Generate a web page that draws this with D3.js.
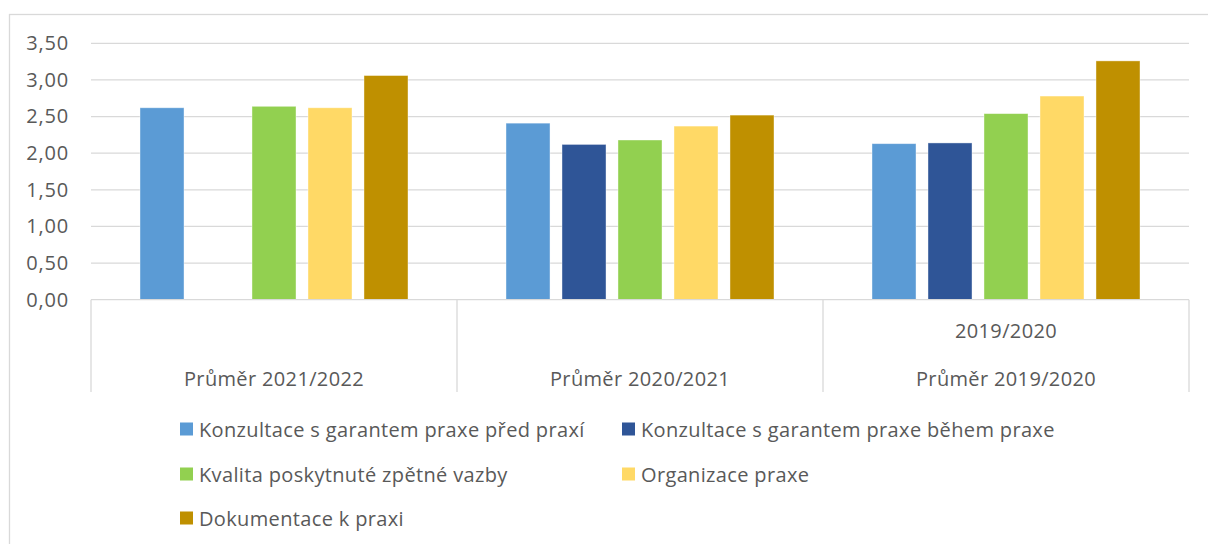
<!DOCTYPE html>
<html><head><meta charset="utf-8">
<script src="https://cdn.jsdelivr.net/npm/d3@7"></script>
<style>
html,body{margin:0;padding:0;background:#fff;overflow:hidden}
text{font-family:"Open Sans",Lato,sans-serif;fill:#595959;letter-spacing:0.35px}
</style></head>
<body>
<svg id="c" width="1208" height="544"></svg>
<script>
const categories = ["Průměr 2021/2022", "Průměr 2020/2021", "Průměr 2019/2020"];
const subLabels = ["", "", "2019/2020"];
const seriesNames = [
  "Konzultace s garantem praxe před praxí",
  "Konzultace s garantem praxe během praxe",
  "Kvalita poskytnuté zpětné vazby",
  "Organizace praxe",
  "Dokumentace k praxi"
];
const seriesColors = ["#5B9BD5", "#2F5597", "#92D050", "#FFD966", "#BF9000"];
const konzultacePred = [2.62, 2.41, 2.13];
const konzultaceBehem = [null, 2.12, 2.14];
const kvalita = [2.64, 2.18, 2.54];
const organizace = [2.62, 2.37, 2.78];
const dokumentace = [3.06, 2.52, 3.26];
const yTicks = [0, 0.5, 1, 1.5, 2, 2.5, 3, 3.5];

const seriesValues = [konzultacePred, konzultaceBehem, kvalita, organizace, dokumentace];

(function () {
const FS = "20px";
const svg = d3.select("#c");
const pLeft = 91, pRight = 1189, pTop = 43.3, pBottom = 299.7;

// outer chart border
svg.append("rect").attr("x", 9.5).attr("y", 14.5).attr("width", 1210).attr("height", 540)
  .attr("fill", "none").attr("stroke", "#D9D9D9").attr("stroke-width", 1.3);

const x0 = d3.scaleBand().domain(categories).range([pLeft, pRight]).padding(0);
const x1 = d3.scaleBand().domain(d3.range(seriesNames.length)).range([0, x0.bandwidth()])
  .paddingInner(0.214).paddingOuter(0.875);
const y = d3.scaleLinear().domain([0, 3.5]).range([pBottom, pTop]);

// gridlines
svg.append("g").selectAll("line").data(yTicks.filter(d => d > 0)).join("line")
  .attr("x1", pLeft).attr("x2", pRight)
  .attr("y1", d => y(d)).attr("y2", d => y(d))
  .attr("stroke", "#D9D9D9").attr("stroke-width", 1.3);

// y axis labels
const yAxis = d3.axisLeft(y).tickValues(yTicks).tickSize(0).tickPadding(0)
  .tickFormat(d => d3.format(".2f")(d).replace(".", ","));
const gy = svg.append("g").attr("transform", `translate(${69},0)`).call(yAxis);
gy.select(".domain").remove();
gy.selectAll("text").style("font-size", FS).attr("fill", "#595959")
  .style("font-family", "'Open Sans', Lato, sans-serif").style("letter-spacing", "0.8px");

// bars
const groups = svg.append("g").selectAll("g").data(categories).join("g")
  .attr("transform", c => `translate(${x0(c)},0)`);
groups.selectAll("rect").data((c, ci) => seriesValues.map((s, si) => ({si, v: s[ci]})).filter(d => d.v != null))
  .join("rect")
  .attr("x", d => x1(d.si)).attr("width", x1.bandwidth())
  .attr("y", d => y(d.v)).attr("height", d => y(0) - y(d.v))
  .attr("fill", d => seriesColors[d.si])
  .attr("stroke", "#fff").attr("stroke-opacity", 0.5).attr("stroke-width", 0.8);

// category axis: baseline and dividers
svg.append("line").attr("x1", pLeft).attr("x2", pRight).attr("y1", pBottom).attr("y2", pBottom)
  .attr("stroke", "#D9D9D9").attr("stroke-width", 1.3);
const divs = categories.map(c => x0(c)).concat([x0.range()[1]]);
svg.append("g").selectAll("line").data(divs).join("line")
  .attr("x1", d => d).attr("x2", d => d).attr("y1", pBottom).attr("y2", 392)
  .attr("stroke", "#D9D9D9").attr("stroke-width", 1.3);

svg.append("g").selectAll("text").data(categories).join("text")
  .attr("x", c => x0(c) + x0.bandwidth() / 2).attr("y", 378)
  .attr("text-anchor", "middle").attr("dominant-baseline", "central")
  .style("font-size", FS).text(c => c);
svg.append("g").selectAll("text").data(categories).join("text")
  .attr("x", c => x0(c) + x0.bandwidth() / 2).attr("y", 330)
  .attr("text-anchor", "middle").attr("dominant-baseline", "central")
  .style("font-size", FS).text((c, i) => subLabels[i]);

// legend
const legPos = [[180, 429], [622, 429], [180, 474], [622, 474], [180, 518]];
const leg = svg.append("g").selectAll("g").data(seriesNames).join("g")
  .attr("transform", (d, i) => `translate(${legPos[i][0]},${legPos[i][1]})`);
leg.append("rect").attr("x", 0).attr("y", -6.5).attr("width", 13).attr("height", 13)
  .attr("fill", (d, i) => seriesColors[i]);
leg.append("text").attr("x", 19).attr("y", 0).attr("dominant-baseline", "central")
  .style("font-size", FS).text(d => d);
})();
</script>
</body></html>
